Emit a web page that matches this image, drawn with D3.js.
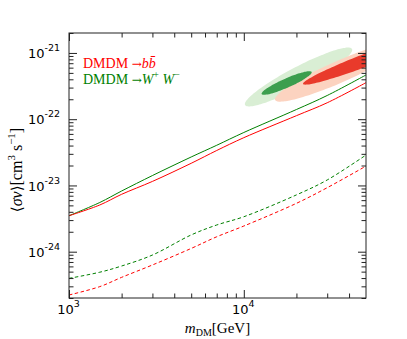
<!DOCTYPE html>
<html>
<head>
<meta charset="utf-8">
<script src="https://cdn.jsdelivr.net/npm/d3@7"></script>
<style>
  body { margin: 0; background: #fff; }
  svg { display: block; }
</style>
</head>
<body>
<svg id="chart" width="407" height="339"></svg>
<script>
// masses in GeV, cross sections in cm^3 s^-1
const masses = [1000, 1500, 2000, 3000, 5000, 7000, 10000, 20000, 30000, 50000];
const wwSolid = [3.49e-24, 5.53e-24, 8.24e-24, 1.41e-23, 2.69e-23, 4.04e-23, 6.30e-23, 1.40e-22, 2.28e-22, 4.65e-22];
const bbSolid = [3.49e-24, 5.07e-24, 7.35e-24, 1.15e-23, 2.16e-23, 3.37e-23, 5.26e-23, 1.13e-22, 1.77e-22, 3.56e-22];
const wwDashed = [3.96e-25, 4.9e-25, 6.08e-25, 8.9e-25, 1.79e-24, 2.53e-24, 3.37e-24, 7.2e-24, 1.21e-23, 2.88e-23];
const bbDashed = [2.22e-25, 2.97e-25, 4.1e-25, 6.3e-25, 1.12e-24, 1.68e-24, 2.44e-24, 5.37e-24, 9.25e-24, 1.96e-23];

// best-fit regions: centre and half axes in (log10 m, log10 <sv>)
const regionNames = ['WW outer', 'bb outer', 'WW inner', 'bb inner'];
const regionCentres = [[4.313, -21.363], [4.545, -21.285], [4.245, -21.454], [4.739, -21.068]];
const regionMajor = [[0.306, 0.423], [0.366, 0.425], [0.143, 0.166], [0.400, 0.400]];
const regionMinor = [[0.027, -0.135], [0.025, -0.150], [0.0105, -0.064], [0.0135, -0.092]];
const regionColours = ['#d9eed4', '#fcd3c0', '#3c9e4e', '#e93a2b'];

const xMajor = [1e3, 1e4];
const xMinor = [2e3, 3e3, 4e3, 5e3, 6e3, 7e3, 8e3, 9e3, 2e4, 3e4, 4e4];
const yMajor = [1e-24, 1e-23, 1e-22, 1e-21];
const yMinor = [];
[-25, -24, -23, -22, -21].forEach(function(e) {
    [2, 3, 4, 5, 6, 7, 8, 9].forEach(function(k) {
        const v = k * Math.pow(10, e);
        if (v >= 2e-25 && v <= 2e-21) yMinor.push(v);
    });
});

const plotL = 69, plotR = 366, plotT = 33, plotB = 298;
const svg = d3.select('#chart');

const x = d3.scaleLog().domain([1e3, 5e4]).range([plotL, plotR]);
const y = d3.scaleLog().domain([2e-25, 2e-21]).range([plotB, plotT]);

svg.append('defs').append('clipPath').attr('id', 'clip')
    .append('rect')
    .attr('x', plotL).attr('y', plotT)
    .attr('width', plotR - plotL).attr('height', plotB - plotT);

const plot = svg.append('g').attr('clip-path', 'url(#clip)');

// regions
regionNames.forEach(function(name, i) {
    const pts = d3.range(0, 360, 4).map(function(deg) {
        const t = deg * Math.PI / 180;
        const lm = regionCentres[i][0] + Math.cos(t) * regionMajor[i][0] + Math.sin(t) * regionMinor[i][0];
        const ls = regionCentres[i][1] + Math.cos(t) * regionMajor[i][1] + Math.sin(t) * regionMinor[i][1];
        return [x(Math.pow(10, lm)), y(Math.pow(10, ls))];
    });
    plot.append('path')
        .attr('class', 'region')
        .attr('d', d3.line().curve(d3.curveCardinalClosed)(pts))
        .attr('fill', regionColours[i])
        .attr('stroke', 'none');
});

const line = d3.line()
    .x(function(d) { return x(d[0]); })
    .y(function(d) { return y(d[1]); })
    .curve(d3.curveCatmullRom.alpha(0.5));

const series = [
    { v: wwSolid, colour: '#008000', dash: null },
    { v: bbSolid, colour: '#ff0000', dash: null },
    { v: wwDashed, colour: '#008000', dash: '3.5,2.5' },
    { v: bbDashed, colour: '#ff0000', dash: '3.5,2.5' }
];

series.forEach(function(s) {
    plot.append('path')
        .datum(masses.map(function(m, i) { return [m, s.v[i]]; }))
        .attr('d', line)
        .attr('fill', 'none')
        .attr('stroke', s.colour)
        .attr('stroke-width', 1)
        .attr('stroke-dasharray', s.dash);
});

// axes, ticks pointing inwards on all four sides
function addAxis(gen, transform, values, size) {
    const g = svg.append('g')
        .attr('transform', transform)
        .call(gen.tickValues(values).tickSize(size).tickFormat(function() { return ''; }));
    g.select('.domain').remove();
    g.selectAll('line').attr('stroke', '#222').attr('stroke-width', 1);
    return g;
}

const gx = addAxis(d3.axisBottom(x).tickPadding(7), `translate(0,${plotB})`, xMajor, -8);
addAxis(d3.axisBottom(x), `translate(0,${plotB})`, xMinor, -4.5);
addAxis(d3.axisTop(x), `translate(0,${plotT})`, xMajor, -8);
addAxis(d3.axisTop(x), `translate(0,${plotT})`, xMinor, -4.5);

const gy = addAxis(d3.axisLeft(y).tickPadding(9), `translate(${plotL},0)`, yMajor, -8);
addAxis(d3.axisLeft(y), `translate(${plotL},0)`, yMinor, -4.5);
addAxis(d3.axisRight(y), `translate(${plotR},0)`, yMajor, -8);
addAxis(d3.axisRight(y), `translate(${plotR},0)`, yMinor, -4.5);

gx.selectAll('.tick text').each(function(d) {
    const t = d3.select(this)
        .attr('font-family', 'DejaVu Sans')
        .attr('font-size', 13)
        .attr('fill', '#000')
        .attr('dx', '-1');
    t.append('tspan').text('10');
    t.append('tspan').attr('dy', -7).attr('font-size', 9.5).text(Math.round(Math.log10(d)));
});

gy.selectAll('.tick text').each(function(d) {
    const t = d3.select(this)
        .attr('font-family', 'DejaVu Sans')
        .attr('font-size', 13)
        .attr('fill', '#000')
        .attr('dy', '0.36em');
    t.append('tspan').text('10');
    t.append('tspan').attr('dy', -7).attr('font-size', 9.5).text(String(Math.round(Math.log10(d))));
});

// frame
svg.append('rect')
    .attr('x', plotL).attr('y', plotT)
    .attr('width', plotR - plotL).attr('height', plotB - plotT)
    .attr('fill', 'none')
    .attr('stroke', '#222')
    .attr('stroke-width', 1);

// axis labels
const serif = 'Liberation Serif, DejaVu Serif, serif';
const xl = svg.append('text')
    .attr('x', (plotL + plotR) / 2).attr('y', 333)
    .attr('text-anchor', 'middle')
    .attr('font-family', serif)
    .attr('font-size', 15);
xl.append('tspan').attr('font-style', 'italic').text('m');
xl.append('tspan').attr('font-size', 10).attr('dy', 3).text('DM');
xl.append('tspan').attr('dy', -3).text('[GeV]');

const yl = svg.append('text')
    .attr('transform', 'translate(22,170) rotate(-90)')
    .attr('text-anchor', 'middle')
    .attr('font-family', serif)
    .attr('font-size', 16);
yl.append('tspan').attr('font-family', 'DejaVu Serif').attr('font-size', 15).text('\u27E8');
yl.append('tspan').attr('font-style', 'italic').text('\u03C3v');
yl.append('tspan').attr('font-family', 'DejaVu Serif').attr('font-size', 15).text('\u27E9');
yl.append('tspan').text('[cm');
yl.append('tspan').attr('font-size', 11).attr('dy', -7).text('3');
yl.append('tspan').attr('dy', 7).text(' s');
yl.append('tspan').attr('font-size', 11).attr('dy', -7).text('\u22121');
yl.append('tspan').attr('dy', 7).text(']');

// legend
const legend = svg.append('g').attr('font-family', serif).attr('font-size', 14);
const l1 = legend.append('text').attr('x', 83).attr('y', 68).attr('fill', '#ff0000');
l1.append('tspan').text('DMDM ');
l1.append('tspan').attr('font-family', 'DejaVu Serif').attr('font-size', 12).text('\u2192');
l1.append('tspan').attr('font-style', 'italic').text('b');
l1.append('tspan').attr('font-style', 'italic').text('b\u0304');

const l2 = legend.append('text').attr('x', 83).attr('y', 84).attr('fill', '#008000');
l2.append('tspan').text('DMDM ');
l2.append('tspan').attr('font-family', 'DejaVu Serif').attr('font-size', 12).text('\u2192');
l2.append('tspan').attr('font-style', 'italic').text('W');
l2.append('tspan').attr('font-size', 10).attr('dy', -6).text('+');
l2.append('tspan').attr('dy', 6).attr('font-style', 'italic').text(' W');
l2.append('tspan').attr('font-size', 10).attr('dy', -6).text('\u2212');
</script>
</body>
</html>
